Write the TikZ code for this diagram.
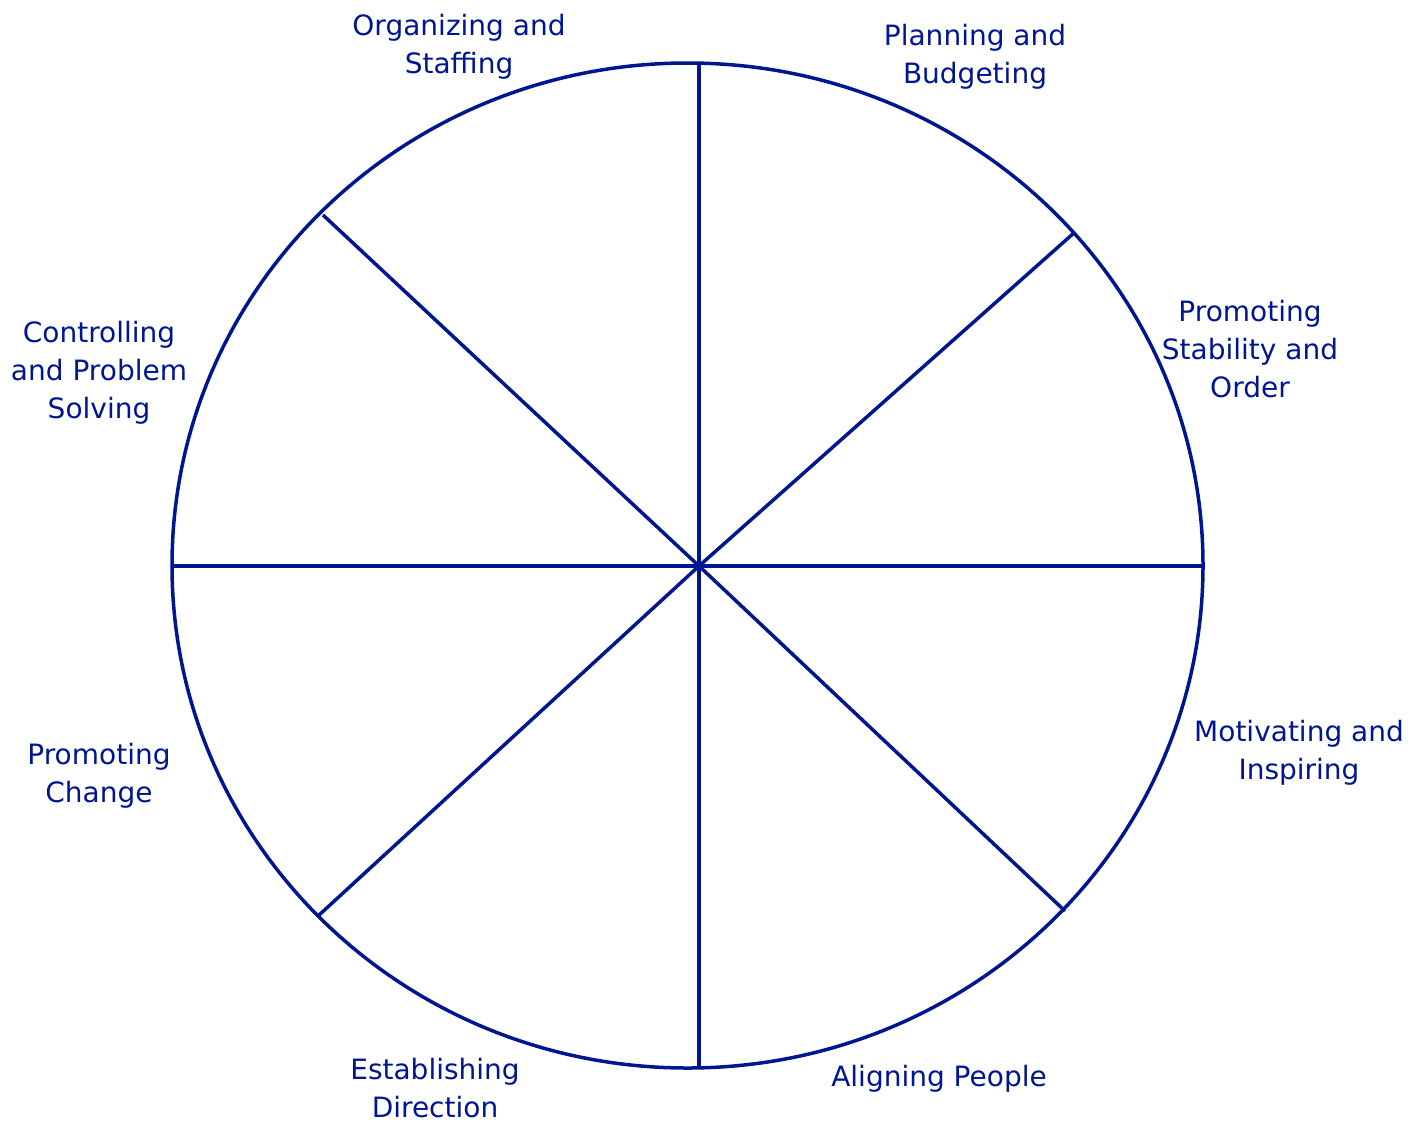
\documentclass[tikz,border=0pt]{standalone}
\usepackage{fontspec}
\setmainfont{DejaVu Sans}
\definecolor{navy}{RGB}{0,22,145}
\begin{document}
\begin{tikzpicture}[x=1pt,y=-1pt,
  rim/.style={draw=navy,line width=3.5pt},
  spoke/.style={draw=navy,line width=3.5pt},
  lbl/.style={text=navy,align=center,font=\fontsize{28}{38}\selectfont,inner sep=0pt}]
\useasboundingbox (0,0) rectangle (1426,1122);
% wheel outline
\draw[rim] (687.5,565.5) ellipse [x radius=515.5, y radius=502.5];
% hub and rim points of the spokes
\coordinate (hub) at (699,566);
\coordinate (pN) at (699,63);
\coordinate (pS) at (699,1068);
\coordinate (pW) at (172,566);
\coordinate (pE) at (1203,566);
\coordinate (pNE) at (1075,232);
\coordinate (pSE) at (1065,911);
\coordinate (pSW) at (318,916);
\coordinate (pNW) at (323,215);
\foreach \p in {pN,pS,pW,pE,pNE,pSE,pSW,pNW}
  \draw[spoke] (hub) -- (\p);
% sector labels
\node[lbl] (org) at (459,47) {Organizing and\\Staffing};
\node[lbl] (plan) at (975,57) {Planning and\\Budgeting};
\node[lbl] (stab) at (1250,349) {Promoting\\Stability and\\Order};
\node[lbl] (mot) at (1299,753) {Motivating and\\Inspiring};
\node[lbl] (align) at (939,1079) {Aligning People};
\node[lbl] (est) at (435,1088) {Establishing\\Direction};
\node[lbl] (chg) at (99,776) {Promoting\\Change};
\node[lbl] (ctrl) at (99,373) {Controlling\\and Problem\\Solving};
\end{tikzpicture}
\end{document}
